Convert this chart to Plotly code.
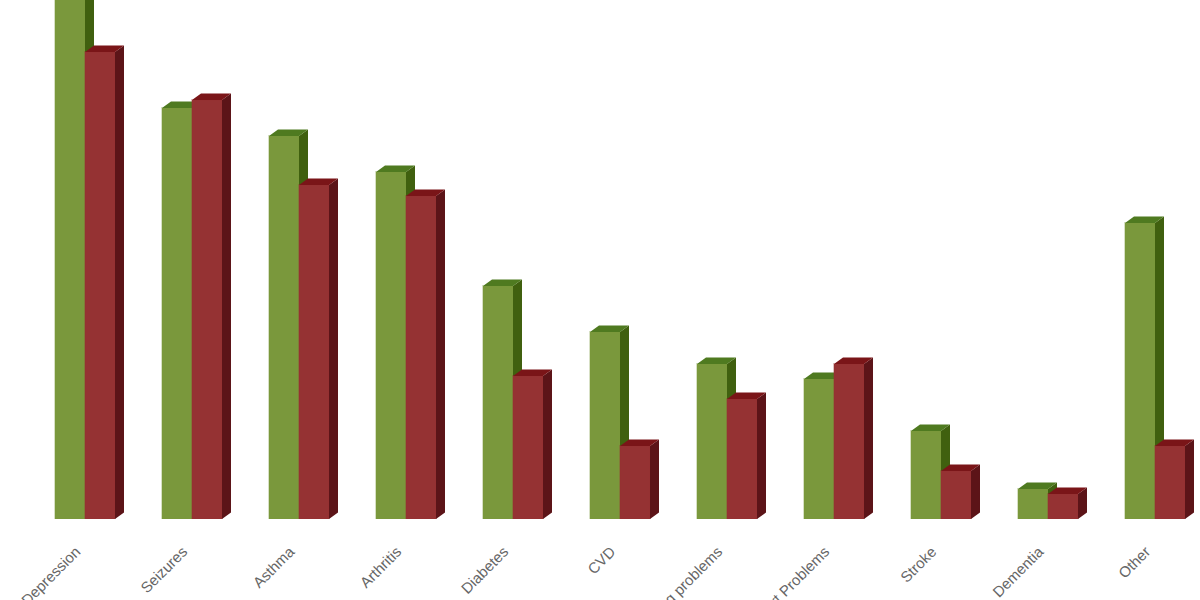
import plotly.graph_objects as go

# rotated labels are blurred in the source, best reading of them
categories = ["Depression", "Seizures", "Asthma", "Arthritis", "Diabetes", "CVD",
              "Lung problems", "Heart Problems", "Stroke", "Dementia", "Other"]
green_values = [53.0, 41.1, 38.3, 34.7, 23.3, 18.7, 15.5, 14.0, 8.8, 3.0, 29.6]
red_values = [46.7, 41.9, 33.4, 32.3, 14.3, 7.3, 12.0, 15.5, 4.8, 2.5, 7.3]

UNIT_PX = 107
BAR_W = 30 / UNIT_PX
DEPTH_X = 9 / UNIT_PX
DEPTH_Y = 0.65
positions = list(range(len(categories)))


def side_faces(values, offset):
    """Right side of each bar, as one polygon trace per face type"""
    xs, ys = [], []
    for pos, val in zip(positions, values):
        right = pos + offset + BAR_W
        xs += [right, right + DEPTH_X, right + DEPTH_X, right, None]
        ys += [0, DEPTH_Y, val + DEPTH_Y, val, None]
    return xs, ys


def top_faces(values, offset):
    xs, ys = [], []
    for pos, val in zip(positions, values):
        left = pos + offset
        xs += [left, left + DEPTH_X, left + BAR_W + DEPTH_X, left + BAR_W, None]
        ys += [val, val + DEPTH_Y, val + DEPTH_Y, val, None]
    return xs, ys


def add_series(fig, values, offset, front, side, top, halo, yaxis):
    fig.add_trace(go.Bar(
        x=positions, y=values, width=BAR_W, offset=offset,
        marker=dict(color=front, line=dict(color=halo, width=2)),
        yaxis=yaxis, showlegend=False, cliponaxis=False
    ))
    for (xs, ys), color in ((side_faces(values, offset), side), (top_faces(values, offset), top)):
        fig.add_trace(go.Scatter(
            x=xs, y=ys, mode="lines", fill="toself", fillcolor=color,
            line=dict(width=0), yaxis=yaxis, showlegend=False, hoverinfo="skip"
        ))


fig = go.Figure()
add_series(fig, green_values, -BAR_W, "#7a983c", "#40600f", "#4f7a20",
           "rgba(122,152,60,0.3)", "y")
add_series(fig, red_values, 0, "#953233", "#5c1418", "#7a1518",
           "rgba(149,50,51,0.3)", "y2")

fig.update_layout(
    width=1200,
    height=600,
    margin=dict(l=0, r=0, t=0, b=81, autoexpand=False),
    plot_bgcolor="white",
    paper_bgcolor="white",
    font=dict(family="Liberation Sans, Arial, sans-serif", size=15, color="#666666"),
    barmode="overlay",
    xaxis=dict(
        range=[-85 / UNIT_PX, (1200 - 85) / UNIT_PX],
        tickmode="array",
        tickvals=positions,
        ticktext=categories,
        tickangle=-45,
        ticklen=0,
        ticklabelstandoff=20,
        ticklabelshift=-9,
        automargin=False,
        showgrid=False,
        zeroline=False,
        showline=False
    ),
    yaxis=dict(range=[0, 51.9], visible=False),
    yaxis2=dict(range=[0, 51.9], visible=False, overlaying="y")
)

fig.write_html("out.html", config=dict(displayModeBar=False),
               post_script="document.body.style.margin='0';document.body.style.overflow='hidden';")
